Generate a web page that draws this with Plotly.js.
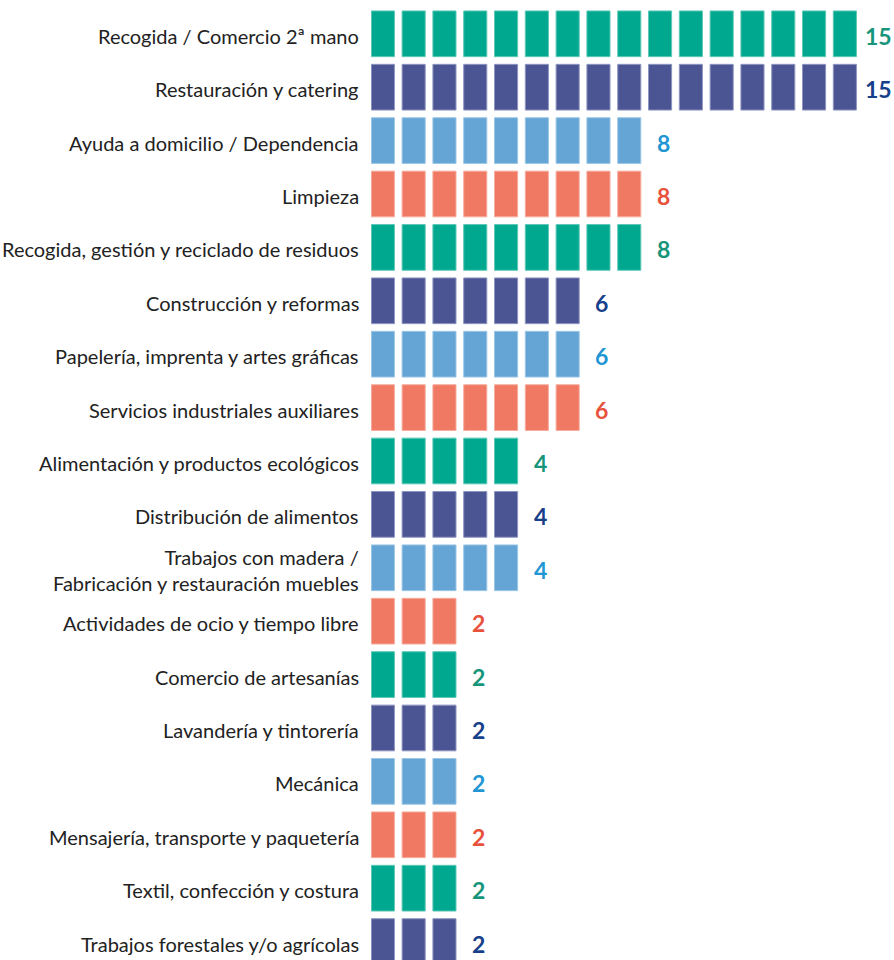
<!DOCTYPE html>
<html>
<head>
<meta charset="utf-8">
<script src="https://cdn.plot.ly/plotly-3.0.1.min.js"></script>
<style>html,body{margin:0;padding:0;background:#fff;}#chart{width:894px;height:960px;}</style>
</head>
<body>
<div id="chart"></div>
<script>
// Data
const categories = [
  "Recogida / Comercio 2ª mano",
  "Restauración y catering",
  "Ayuda a domicilio / Dependencia",
  "Limpieza",
  "Recogida, gestión y reciclado de residuos",
  "Construcción y reformas",
  "Papelería, imprenta y artes gráficas",
  "Servicios industriales auxiliares",
  "Alimentación y productos ecológicos",
  "Distribución de alimentos",
  "Trabajos con madera /<br>Fabricación y restauración muebles",
  "Actividades de ocio y tiempo libre",
  "Comercio de artesanías",
  "Lavandería y tintorería",
  "Mecánica",
  "Mensajería, transporte y paquetería",
  "Textil, confección y costura",
  "Trabajos forestales y/o agrícolas"
];
const values = [15, 15, 8, 8, 8, 6, 6, 6, 4, 4, 4, 2, 2, 2, 2, 2, 2, 2];
// number of blocks drawn in each row of the pictograph
const blocks = [16, 16, 9, 9, 9, 7, 7, 7, 5, 5, 5, 3, 3, 3, 3, 3, 3, 3];

const blockFill = ["#00a88f", "#4b5594", "#64a5d5", "#f07963"];
const blockEdge = ["#5cc8b5", "#8e95c0", "#9cc6e6", "#f6ad9f"];
const textColor = ["#16957a", "#16408a", "#2196d3", "#e8513b"];

const by = [], bx = [], bbase = [], bcol = [], bedge = [];
const annotations = [];
categories.forEach((c, i) => {
  const g = i % 4;
  for (let k = 0; k < blocks[i]; k++) {
    by.push(i); bx.push(0.75); bbase.push(k);
    bcol.push(blockFill[g]); bedge.push(blockEdge[g]);
  }
  // category label
  annotations.push({
    xref: "paper", yref: "y", x: 0, y: i,
    xanchor: "right", yanchor: "middle", align: "right",
    xshift: -10, yshift: -2,
    text: c, showarrow: false,
    font: { family: "Lato, sans-serif", size: 20, color: "#222222", weight: 400 }
  });
  // value label
  annotations.push({
    xref: "x", yref: "y", x: blocks[i] + 0.48, y: i,
    xanchor: "center", yanchor: "middle",
    yshift: -2,
    text: String(values[i]), showarrow: false,
    font: { family: "Lato, sans-serif", size: 23, color: textColor[g], weight: 700 }
  });
});

const traces = [
  {
    type: "bar", orientation: "h",
    y: by, x: bx, base: bbase, width: 0.856,
    marker: { color: bcol, line: { color: bedge, width: 1 } },
    hoverinfo: "skip", showlegend: false
  }
];

const layout = {
  width: 894, height: 960,
  margin: { l: 371, r: 0, t: 0, b: 0, pad: 0 },
  paper_bgcolor: "#ffffff", plot_bgcolor: "#ffffff",
  barmode: "overlay",
  showlegend: false,
  xaxis: { range: [-0.01, 16.97], visible: false, fixedrange: true },
  yaxis: {
    range: [17.345, -0.633],
    showticklabels: false, ticks: "",
    showgrid: false, zeroline: false, showline: false,
    fixedrange: true
  },
  annotations: annotations
};

Plotly.newPlot("chart", traces, layout, { displayModeBar: false, staticPlot: true });
</script>
</body>
</html>
